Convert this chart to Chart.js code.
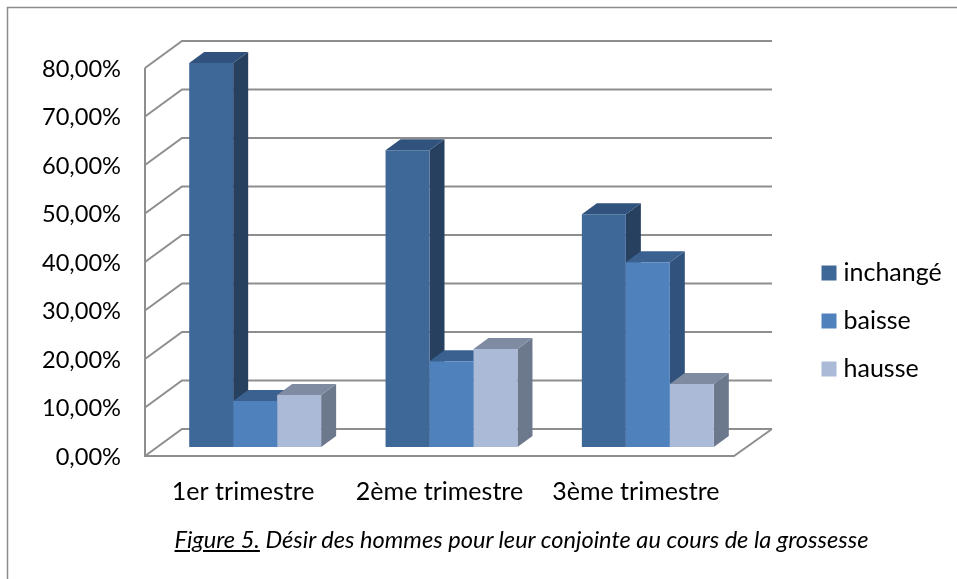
<!DOCTYPE html>
<html>
<head>
<meta charset="utf-8">
<title>Figure 5</title>
<script src="https://cdn.jsdelivr.net/npm/chart.js@4/dist/chart.umd.js"></script>
<style>
  body { margin: 0; background: #fff; }
  #wrap { position: relative; width: 957px; height: 579px; overflow: hidden; }
  #caption {
    position: absolute; left: 0; width: 1043px; top: 525px; text-align: center;
    font: italic 23.6px Lato, sans-serif; color: #000; white-space: nowrap;
  }
</style>
</head>
<body>
<div id="wrap">
  <canvas id="desirChart" width="957" height="579"></canvas>
  <div id="caption"><u>Figure 5.</u> Désir des hommes pour leur conjointe au cours de la grossesse</div>
</div>
<script>
const categories = ['1er trimestre', '2ème trimestre', '3ème trimestre'];
const inchange = [79.2, 61.2, 48.0];
const baisse = [9.5, 17.7, 38.1];
const hausse = [10.7, 20.2, 13.0];
const tickLabels = ['0,00%', '10,00%', '20,00%', '30,00%', '40,00%', '50,00%', '60,00%', '70,00%', '80,00%'];

// front, top and side colours of each series
const faces = [
  { front: '#3e6898', top: '#30527c', side: '#27405f' },
  { front: '#4f81bd', top: '#3b6190', side: '#30527c' },
  { front: '#aabad7', top: '#7e8ba1', side: '#6c788c' }
];

const wallX = 37, wallY = 27;   // depth of the floor
const planeX = 12, planeY = 9;  // bars stand this far in from the front edge
const depthX = 15, depthY = 11; // depth of one bar
const lineColor = '#8e8e8e';

function poly(ctx, pts, color) {
  ctx.fillStyle = color;
  ctx.beginPath();
  pts.forEach(function (p, i) {
    if (i === 0) ctx.moveTo(p[0], p[1]); else ctx.lineTo(p[0], p[1]);
  });
  ctx.closePath();
  ctx.fill();
}

const box3d = {
  id: 'box3d',
  afterLayout(chart) {
    // the legend sits apart from the plot, next to the back wall
    const l = chart.legend;
    const w = l.width;
    l.left = 804;
    l.right = l.left + w;
    l.top = 237.5;
  },
  beforeDraw(chart) {
    const ctx = chart.ctx;
    ctx.save();
    ctx.strokeStyle = '#8c8c8c';
    ctx.lineWidth = 1.5;
    ctx.beginPath();
    ctx.moveTo(957, 7.5);
    ctx.lineTo(7.5, 7.5);
    ctx.lineTo(7.5, 579);
    ctx.stroke();
    ctx.restore();
  },
  beforeDatasetsDraw(chart) {
    const ctx = chart.ctx;
    const y = chart.scales.y;
    const area = chart.chartArea;
    ctx.save();

    // walls and floor
    ctx.strokeStyle = lineColor;
    ctx.lineWidth = 2;
    y.ticks.forEach(function (t) {
      const py = y.getPixelForValue(t.value);
      ctx.beginPath();
      ctx.moveTo(area.left, py);
      ctx.lineTo(area.left + wallX, py - wallY);
      ctx.lineTo(area.right + wallX + 1, py - wallY);
      ctx.stroke();
    });
    ctx.beginPath();
    ctx.moveTo(area.left, y.getPixelForValue(80));
    ctx.lineTo(area.left, area.bottom);
    ctx.lineTo(area.right, area.bottom);
    ctx.lineTo(area.right + wallX + 1, area.bottom - wallY);
    ctx.stroke();

    // bars are drawn by the library on a plane set back from the front edge
    ctx.translate(planeX, -planeY);

    // side and top faces, left to right so that nearer bars cover the others
    chart.data.labels.forEach(function (label, c) {
      faces.forEach(function (face, s) {
        const bar = chart.getDatasetMeta(s).data[c];
        const x0 = bar.x - bar.width / 2;
        const x1 = bar.x + bar.width / 2;
        poly(ctx, [[x1, bar.y], [x1 + depthX, bar.y - depthY], [x1 + depthX, bar.base - depthY], [x1, bar.base]], face.side);
        poly(ctx, [[x0, bar.y], [x0 + depthX, bar.y - depthY], [x1 + depthX, bar.y - depthY], [x1, bar.y]], face.top);
      });
    });
  },
  afterDatasetsDraw(chart) {
    chart.ctx.restore();
  }
};

const ctx = document.getElementById('desirChart').getContext('2d');
const chart = new Chart(ctx, {
  type: 'bar',
  data: {
    labels: categories,
    datasets: [
      { label: 'inchangé', data: inchange, backgroundColor: faces[0].front },
      { label: 'baisse', data: baisse, backgroundColor: faces[1].front },
      { label: 'hausse', data: hausse, backgroundColor: faces[2].front }
    ]
  },
  plugins: [box3d],
  options: {
    responsive: false,
    animation: false,
    layout: { padding: { top: 68, right: 60, bottom: 0, left: 0 } },
    datasets: { bar: { categoryPercentage: 0.672, barPercentage: 1, borderWidth: 0 } },
    plugins: {
      tooltip: { enabled: false },
      legend: {
        position: 'right',
        align: 'start',
        labels: {
          boxWidth: 4,
          boxHeight: 4,
          padding: 23,
          color: '#000',
          font: { family: 'Lato', size: 25 },
          // a thick outline gives a 15px square with the text close to it
          generateLabels(chart) {
            return chart.data.datasets.map(function (d, i) {
              return { text: d.label, fillStyle: d.backgroundColor, strokeStyle: d.backgroundColor, lineWidth: 11, datasetIndex: i, hidden: false };
            });
          }
        }
      }
    },
    scales: {
      x: {
        afterFit(s) { s.height = 123; },
        grid: { display: false },
        border: { display: false },
        ticks: { color: '#000', padding: 13, maxRotation: 0, font: { family: 'Lato', size: 25 } }
      },
      y: {
        min: 0,
        max: 80,
        afterFit(s) { s.width = 145; },
        grid: { display: false, drawTicks: false },
        border: { display: false },
        ticks: {
          stepSize: 10,
          color: '#000',
          padding: 24,
          labelOffset: 1,
          font: { family: 'Lato', size: 23.6 },
          callback(v, i) { return tickLabels[i]; }
        }
      }
    }
  }
});

// fit the plot's right edge, whatever width the legend came out at
chart.options.layout.padding.right += chart.chartArea.right - 734;
chart.update();
</script>
</body>
</html>
